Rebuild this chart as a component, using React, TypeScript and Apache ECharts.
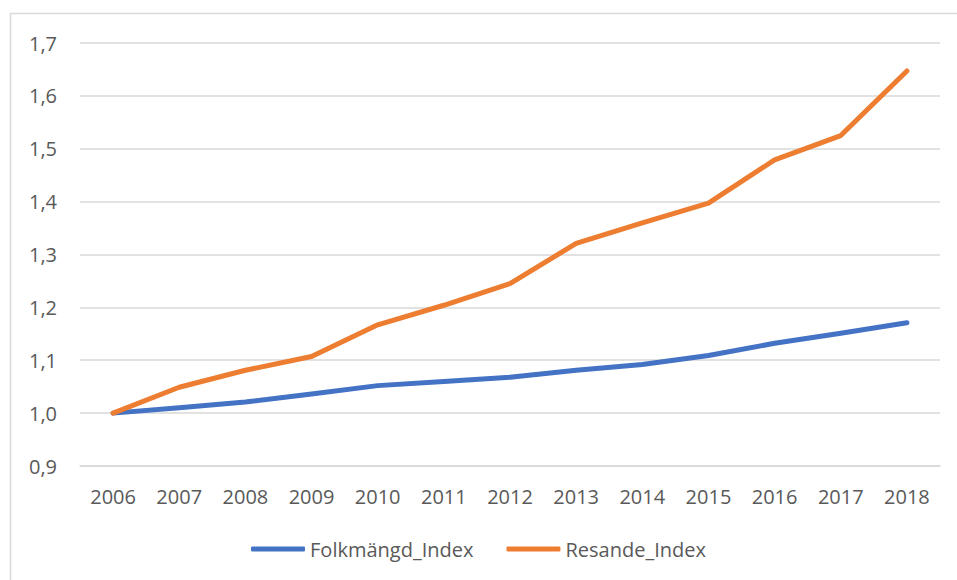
import React, { useEffect, useRef } from "react";
import * as echarts from "echarts";

const years = ["2006", "2007", "2008", "2009", "2010", "2011", "2012", "2013", "2014", "2015", "2016", "2017", "2018"];
const folkmangdIndex = [1.0, 1.01, 1.021, 1.036, 1.052, 1.06, 1.068, 1.081, 1.092, 1.109, 1.132, 1.151, 1.171];
const resandeIndex = [1.0, 1.049, 1.081, 1.107, 1.167, 1.204, 1.245, 1.321, 1.36, 1.397, 1.479, 1.525, 1.647];
const seriesNames = ["Folkmängd_Index", "Resande_Index"];

const FONT = "'Open Sans', sans-serif";
const TEXT = "#595959";

export default function App() {
  const ref = useRef<HTMLDivElement>(null);
  useEffect(() => {
    if (!ref.current) return;
    const chart = echarts.init(ref.current, null, { renderer: "svg" });
    chart.setOption({
      animation: false,
      backgroundColor: "#ffffff",
      textStyle: { fontFamily: FONT, color: TEXT },
      graphic: [
        {
          type: "rect",
          shape: { x: 10.5, y: 13.5, width: 980, height: 600 },
          style: { fill: "none", stroke: "#D9D9D9", lineWidth: 1.5 },
          silent: true,
        },
      ],
      grid: { left: 80, right: 17, top: 43, bottom: 114 },
      legend: {
        bottom: 16,
        left: "center",
        icon: "roundRect",
        itemWidth: 54,
        itemHeight: 5,
        itemGap: 33,
        data: seriesNames,
        textStyle: { fontFamily: FONT, fontSize: 20, color: TEXT, padding: [0, 0, 0, 0] },
      },
      xAxis: {
        type: "category",
        data: years,
        boundaryGap: true,
        axisTick: { show: false },
        axisLine: { lineStyle: { color: "#D9D9D9", width: 1.5 } },
        axisLabel: { fontFamily: FONT, fontSize: 20, color: TEXT, margin: 20 },
      },
      yAxis: {
        type: "value",
        min: 0.9,
        max: 1.7,
        interval: 0.1,
        axisLine: { show: false },
        axisTick: { show: false },
        splitLine: { lineStyle: { color: "#D9D9D9", width: 1.5 } },
        axisLabel: {
          fontFamily: FONT,
          fontSize: 20,
          color: TEXT,
          margin: 23,
          formatter: (v: number) => v.toFixed(1).replace(".", ","),
        },
      },
      series: [
        {
          name: seriesNames[0],
          type: "line",
          data: folkmangdIndex,
          showSymbol: false,
          symbol: "none",
          lineStyle: { color: "#4472C4", width: 5, cap: "round", join: "round" },
          itemStyle: { color: "#4472C4" },
        },
        {
          name: seriesNames[1],
          type: "line",
          data: resandeIndex,
          showSymbol: false,
          symbol: "none",
          lineStyle: { color: "#ED7D31", width: 5, cap: "round", join: "round" },
          itemStyle: { color: "#ED7D31" },
        },
      ],
    });
    return () => chart.dispose();
  }, []);
  return (
    <div
      ref={ref}
      style={{ position: "absolute", left: 0, top: 0, width: 957, height: 580 }}
    />
  );
}
